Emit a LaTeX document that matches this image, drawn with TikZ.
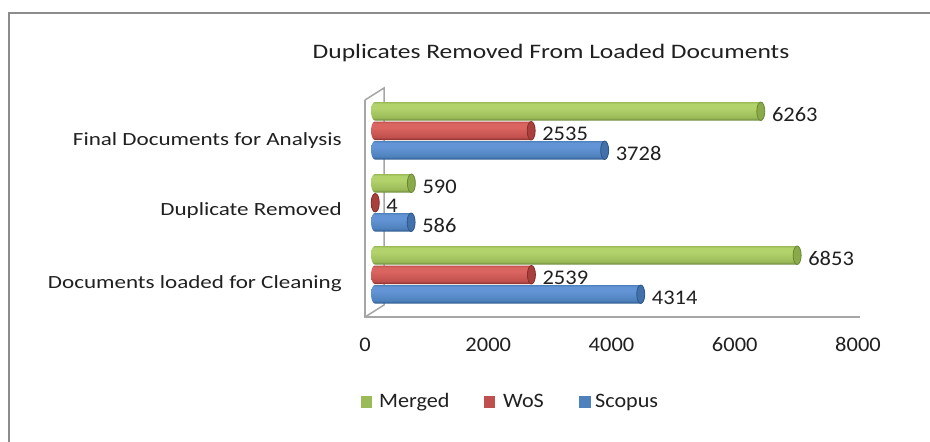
\documentclass[tikz,border=0pt]{standalone}
\usepackage{fontspec}
\setmainfont{Carlito}
\newfontfamily\catfont[FakeStretch=1.24]{Carlito}
\newfontfamily\numfont[FakeStretch=1.08]{Carlito}
\definecolor{txt}{HTML}{202020}
\definecolor{frameC}{HTML}{8C8C8C}
\definecolor{axisC}{HTML}{A6A6A6}
\definecolor{GMain}{HTML}{9BBB59}
\definecolor{GLight}{HTML}{B2D26C}
\definecolor{GDark}{HTML}{6A8736}
\definecolor{GCap}{HTML}{8AAA4A}
\definecolor{RMain}{HTML}{C0504D}
\definecolor{RLight}{HTML}{DA6460}
\definecolor{RDark}{HTML}{862E2B}
\definecolor{RCap}{HTML}{A8403D}
\definecolor{BMain}{HTML}{4F81BD}
\definecolor{BLight}{HTML}{6395D6}
\definecolor{BDark}{HTML}{2D578A}
\definecolor{BCap}{HTML}{4270AA}
\pgfdeclareverticalshading{shG}{100bp}{color(0bp)=(GDark); color(25bp)=(GDark); color(33bp)=(GMain); color(58bp)=(GLight); color(70bp)=(GLight); color(75bp)=(GMain); color(100bp)=(GMain)}
\pgfdeclareverticalshading{shR}{100bp}{color(0bp)=(RDark); color(25bp)=(RDark); color(33bp)=(RMain); color(58bp)=(RLight); color(70bp)=(RLight); color(75bp)=(RMain); color(100bp)=(RMain)}
\pgfdeclareverticalshading{shB}{100bp}{color(0bp)=(BDark); color(25bp)=(BDark); color(33bp)=(BMain); color(58bp)=(BLight); color(70bp)=(BLight); color(75bp)=(BMain); color(100bp)=(BMain)}
\tikzset{
  catlabel/.style={anchor=base east, text=txt, inner sep=0, font=\catfont\fontsize{18.6}{22}\selectfont},
  titlelabel/.style={anchor=base, text=txt, inner sep=0, font=\catfont\fontsize{20.6}{24}\selectfont},
  vallabel/.style={anchor=base west, text=txt, inner sep=0, font=\numfont\fontsize{20.8}{24}\selectfont},
  ticklabel/.style={anchor=base, text=txt, inner sep=0, font=\numfont\fontsize{20.8}{24}\selectfont},
  leglabel/.style={anchor=base west, text=txt, inner sep=0, font=\numfont\fontsize{20.5}{24}\selectfont},
  legbox/.style={inner sep=0, minimum size=11.5pt},
  axisline/.style={draw=axisC, line width=1.5pt},
  frameline/.style={draw=frameC, line width=2pt},
}
\newcommand\cylbar[4]{%
  \pgfmathsetmacro\xe{375+#3*0.0616}%
  \pgfmathsetmacro\ym{#2+9.25}%
  \pgfmathsetmacro\yb{#2+18.5}%
  \shade[shading=sh#4] (375,#2) arc[start angle=270,end angle=90,x radius=4,y radius=9.25] -- (\xe,\yb) arc[start angle=90,end angle=-90,x radius=4,y radius=9.25] -- cycle;
  \filldraw[fill=#4Cap, draw=#4Dark, line width=0.8pt] (\xe,\ym) ellipse[x radius=4,y radius=9.25];
  \node[vallabel] (#1) at (\xe+11,\ym+10) {#3};%
}
\begin{document}
\begin{tikzpicture}[x=1pt,y=-1pt]
\useasboundingbox (0,0) rectangle (930,442);
\fill[white] (0,0) rectangle (930,442);
% outer frame
\draw[frameline] (9,442) -- (9,13) -- (930,13);
% title
\node[titlelabel] (title) at (551,58) {Duplicates Removed From Loaded Documents};
% 3D axes
\draw[axisline] (365,100) -- (384,88) -- (384,305) -- (365,317);
\draw[axisline] (365,100) -- (365,317) -- (860,317);
% category labels
\node[catlabel] (cF) at (342,145) {Final Documents for Analysis};
\node[catlabel] (cD) at (342,215) {Duplicate Removed};
\node[catlabel] (cL) at (342,288) {Documents loaded for Cleaning};
% bars: Final Documents for Analysis
\cylbar{vFG}{102}{6263}{G}
\cylbar{vFR}{121.5}{2535}{R}
\cylbar{vFB}{141}{3728}{B}
% bars: Duplicate Removed
\cylbar{vDG}{174}{590}{G}
\cylbar{vDR}{193.5}{4}{R}
\cylbar{vDB}{213}{586}{B}
% bars: Documents loaded for Cleaning
\cylbar{vLG}{246}{6853}{G}
\cylbar{vLR}{265.5}{2539}{R}
\cylbar{vLB}{285}{4314}{B}
% tick labels
\node[ticklabel] (t0) at (365,351) {0};
\node[ticklabel] (t1) at (488.25,351) {2000};
\node[ticklabel] (t2) at (611.5,351) {4000};
\node[ticklabel] (t3) at (734.75,351) {6000};
\node[ticklabel] (t4) at (858,351) {8000};
% legend
\node[legbox, fill=GMain] (lgG) at (366.5,402) {};
\node[leglabel] (lgGt) at (379,407) {Merged};
\node[legbox, fill=RMain] (lgR) at (489.5,402) {};
\node[leglabel] (lgRt) at (503,407) {WoS};
\node[legbox, fill=BMain] (lgB) at (585,402) {};
\node[leglabel] (lgBt) at (595,407) {Scopus};
\end{tikzpicture}
\end{document}
